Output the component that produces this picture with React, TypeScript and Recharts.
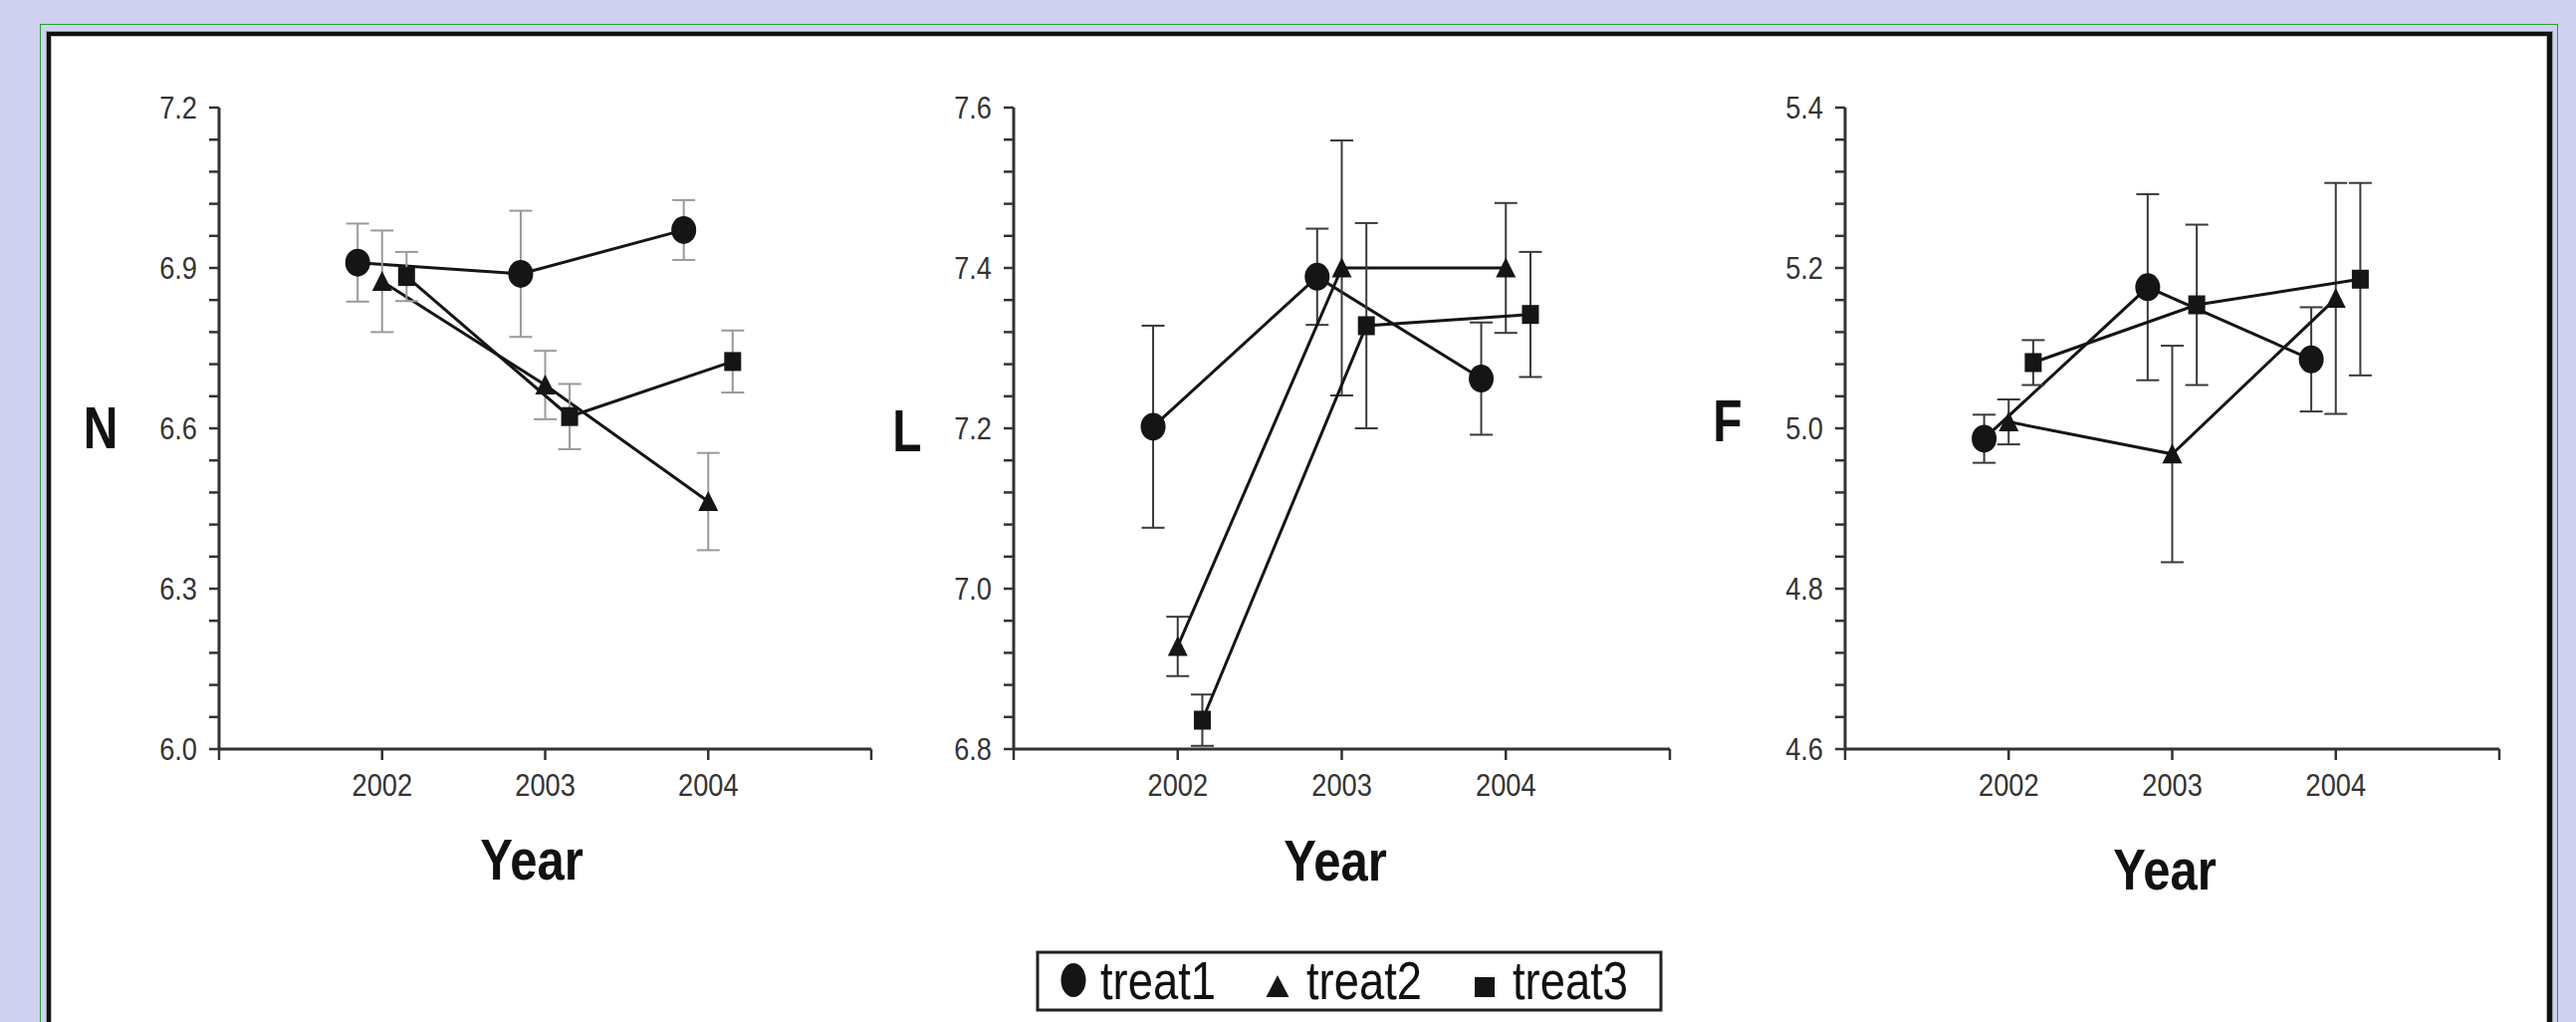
import React from 'react';
import { LineChart, Line, XAxis, YAxis, ErrorBar, Legend, Label } from 'recharts';

// ---------------- data ----------------
const YEARS = [2002, 2003, 2004];
const SERIES = ['treat1', 'treat2', 'treat3'];

const N_TREAT1 = [6.91, 6.889, 6.971];
const N_TREAT1_ERR = [0.073, 0.118, 0.056];
const N_TREAT2 = [6.875, 6.681, 6.463];
const N_TREAT2_ERR = [0.095, 0.064, 0.091];
const N_TREAT3 = [6.884, 6.622, 6.725];
const N_TREAT3_ERR = [0.046, 0.061, 0.058];

const L_TREAT1 = [7.202, 7.389, 7.262];
const L_TREAT1_ERR = [0.126, 0.06, 0.07];
const L_TREAT2 = [6.928, 7.4, 7.4];
const L_TREAT2_ERR = [0.037, 0.159, 0.081];
const L_TREAT3 = [6.836, 7.328, 7.342];
const L_TREAT3_ERR = [0.032, 0.128, 0.078];

const F_TREAT1 = [4.987, 5.176, 5.086];
const F_TREAT1_ERR = [0.03, 0.116, 0.065];
const F_TREAT2 = [5.008, 4.968, 5.162];
const F_TREAT2_ERR = [0.028, 0.135, 0.144];
const F_TREAT3 = [5.082, 5.154, 5.186];
const F_TREAT3_ERR = [0.028, 0.1, 0.12];

const X_TICKS = [2001, 2002, 2003, 2004, 2005];
const X_TICK_LABELS = ['', '2002', '2003', '2004', ''];

const N_TICKS = [6.0, 6.06, 6.12, 6.18, 6.24, 6.3, 6.36, 6.42, 6.48, 6.54, 6.6, 6.66, 6.72, 6.78, 6.84, 6.9, 6.96, 7.02, 7.08, 7.14, 7.2];
const N_TICK_LABELS = ['6.0', '', '', '', '', '6.3', '', '', '', '', '6.6', '', '', '', '', '6.9', '', '', '', '', '7.2'];
const L_TICKS = [6.8, 6.84, 6.88, 6.92, 6.96, 7.0, 7.04, 7.08, 7.12, 7.16, 7.2, 7.24, 7.28, 7.32, 7.36, 7.4, 7.44, 7.48, 7.52, 7.56, 7.6];
const L_TICK_LABELS = ['6.8', '', '', '', '', '7.0', '', '', '', '', '7.2', '', '', '', '', '7.4', '', '', '', '', '7.6'];
const F_TICKS = [4.6, 4.64, 4.68, 4.72, 4.76, 4.8, 4.84, 4.88, 4.92, 4.96, 5.0, 5.04, 5.08, 5.12, 5.16, 5.2, 5.24, 5.28, 5.32, 5.36, 5.4];
const F_TICK_LABELS = ['4.6', '', '', '', '', '4.8', '', '', '', '', '5.0', '', '', '', '', '5.2', '', '', '', '', '5.4'];

// ---------------- styles ----------------
const FONT = "'Liberation Sans', Arial, sans-serif";
const SQUEEZE = 0.85;
const H = 1026;
const PLOT_TOP = 108;
const PLOT_BOTTOM = 752;
const Y_AXIS_W = 190;
const RIGHT_PAD = 12;
const SERIES_OFFSET: Record<string, number> = { treat1: -0.15, treat2: 0, treat3: 0.15 };
const INK = '#151515';
const AXIS = '#333';

function rows(vals: number[], errs: number[], name: string) {
  return YEARS.map((yr, i) => ({ x: yr + SERIES_OFFSET[name], y: vals[i], err: errs[i] }));
}

const PANELS = [
  {
    letter: 'N', plotLeft: 220, plotRight: 875, domain: [6.0, 7.2], ticks: N_TICKS, tickLabels: N_TICK_LABELS,
    errColor: '#9a9a9a', letterX: 101, letterY: 450, yearX: 534, yearY: 883,
    series: [rows(N_TREAT1, N_TREAT1_ERR, 'treat1'), rows(N_TREAT2, N_TREAT2_ERR, 'treat2'), rows(N_TREAT3, N_TREAT3_ERR, 'treat3')],
  },
  {
    letter: 'L', plotLeft: 1018, plotRight: 1677, domain: [6.8, 7.6], ticks: L_TICKS, tickLabels: L_TICK_LABELS,
    errColor: '#3a3a3a', letterX: 911, letterY: 453, yearX: 1341, yearY: 884,
    series: [rows(L_TREAT1, L_TREAT1_ERR, 'treat1'), rows(L_TREAT2, L_TREAT2_ERR, 'treat2'), rows(L_TREAT3, L_TREAT3_ERR, 'treat3')],
  },
  {
    letter: 'F', plotLeft: 1853, plotRight: 2510, domain: [4.6, 5.4], ticks: F_TICKS, tickLabels: F_TICK_LABELS,
    errColor: '#3a3a3a', letterX: 1735, letterY: 443, yearX: 2174, yearY: 893,
    series: [rows(F_TREAT1, F_TREAT1_ERR, 'treat1'), rows(F_TREAT2, F_TREAT2_ERR, 'treat2'), rows(F_TREAT3, F_TREAT3_ERR, 'treat3')],
  },
];

function SqText({ x, y, sx, children, ...rest }: any) {
  return (
    <g transform={`translate(${x},${y}) scale(${sx},1)`}>
      <text x={0} y={0} fontFamily={FONT} {...rest}>{children}</text>
    </g>
  );
}

function Marker({ shape, cx, cy }: { shape: string; cx: number; cy: number }) {
  if (cx == null || cy == null || isNaN(cx) || isNaN(cy)) return null;
  if (shape === 'treat1') return <ellipse cx={cx} cy={cy} rx={12.5} ry={14} fill={INK} />;
  if (shape === 'treat2')
    return <polygon points={`${cx},${cy - 10.5} ${cx - 10},${cy + 9.5} ${cx + 10},${cy + 9.5}`} fill={INK} />;
  return <rect x={cx - 8.5} y={cy - 9.5} width={17} height={19} fill={INK} />;
}

const LEG_LEFT = 1040;
const LEG_TOP = 950;

function LegendBox(props: any) {
  const payload = (props.payload || []) as any[];
  const textX = [65, 272, 479];
  const names = payload.map((p) => p.value as string);
  return (
    <svg width={632} height={70} style={{ display: 'block' }}>
      <rect x={2} y={6} width={626} height={58} fill="#fff" stroke="#222" strokeWidth={3} />
      {names.map((n, i) => (
        <g key={n}>
          {n === 'treat1' && <ellipse cx={38} cy={34} rx={12.5} ry={17} fill={INK} />}
          {n === 'treat2' && <polygon points={`243,29 231.5,51 254.5,51`} fill={INK} />}
          {n === 'treat3' && <rect x={441} y={31} width={20} height={20} fill={INK} />}
          <SqText x={textX[i]} y={53} sx={0.84} fontSize={54} fill="#111">{n}</SqText>
        </g>
      ))}
    </svg>
  );
}

function XTick(props: any) {
  const { x, y, payload, tickFormatter } = props;
  const label = tickFormatter ? tickFormatter(payload.value, payload.index) : String(payload.value);
  if (!label) return null;
  return <SqText x={x} y={y} sx={SQUEEZE} textAnchor="middle" dy="0.71em" fontSize={32} fill="#333">{label}</SqText>;
}

function YTick(props: any) {
  const { x, y, payload, tickFormatter } = props;
  const label = tickFormatter ? tickFormatter(payload.value, payload.index) : String(payload.value);
  if (!label) return null;
  return <SqText x={x} y={y} sx={SQUEEZE} textAnchor="end" dy="0.355em" fontSize={32} fill="#333">{label}</SqText>;
}

function Panel({ p, withLegend }: { p: (typeof PANELS)[number]; withLegend: boolean }) {
  const left = p.plotLeft - Y_AXIS_W;
  const width = Y_AXIS_W + (p.plotRight - p.plotLeft) + RIGHT_PAD;
  const fmtY = (v: number) => {
    const i = p.ticks.findIndex((t) => Math.abs(t - v) < 1e-6);
    return i >= 0 ? p.tickLabels[i] : '';
  };
  const fmtX = (v: number) => {
    const i = X_TICKS.indexOf(v);
    return i >= 0 ? X_TICK_LABELS[i] : '';
  };
  return (
    <div style={{ position: 'absolute', left, top: 0, width, height: H }}>
      <LineChart width={width} height={H} margin={{ top: PLOT_TOP, right: RIGHT_PAD, bottom: 0, left: 0 }}>
        <XAxis
          type="number"
          dataKey="x"
          domain={[2001, 2005]}
          ticks={X_TICKS}
          interval={0}
          allowDataOverflow
          tickFormatter={fmtX}
          height={H - PLOT_BOTTOM}
          tickSize={11}
          tickMargin={13}
          axisLine={{ stroke: AXIS, strokeWidth: 3 }}
          tickLine={{ stroke: AXIS, strokeWidth: 2.5 }}
          tick={<XTick />}
        >
          <Label
            content={() => (
              <SqText x={p.yearX - left} y={p.yearY} sx={0.86} textAnchor="middle" fontWeight="bold" fontSize={57} fill="#111">
                Year
              </SqText>
            )}
          />
        </XAxis>
        <YAxis
          type="number"
          domain={p.domain}
          ticks={p.ticks}
          interval={0}
          allowDataOverflow
          width={Y_AXIS_W}
          tickFormatter={fmtY}
          tickSize={10}
          tickMargin={12}
          axisLine={{ stroke: AXIS, strokeWidth: 3 }}
          tickLine={{ stroke: AXIS, strokeWidth: 2.5 }}
          tick={<YTick />}
        >
          <Label
            content={() => (
              <SqText x={p.letterX - left} y={p.letterY} sx={0.8} textAnchor="middle" fontWeight="bold" fontSize={60} fill="#111">
                {p.letter}
              </SqText>
            )}
          />
        </YAxis>
        {p.series.map((data, si) => {
          const name = SERIES[si];
          return (
            <Line
              key={name}
              name={name}
              data={data}
              dataKey="y"
              type="linear"
              stroke={INK}
              strokeWidth={3}
              isAnimationActive={false}
              activeDot={false}
              dot={(dp: any) => <Marker key={`${name}-${dp.index}`} shape={name} cx={dp.cx} cy={dp.cy} />}
            >
              <ErrorBar dataKey="err" width={11.5} stroke={p.errColor} strokeWidth={2} direction="y" isAnimationActive={false} />
            </Line>
          );
        })}
        {withLegend && (
          <Legend
            layout="horizontal"
            verticalAlign="middle"
            align="center"
            width={632}
            height={70}
            wrapperStyle={{ position: 'absolute', left: LEG_LEFT - left, top: LEG_TOP, width: 632, height: 70, margin: 0, padding: 0 }}
            content={(lp: any) => <LegendBox {...lp} />}
          />
        )}
      </LineChart>
    </div>
  );
}

export default function App() {
  return (
    <div style={{ position: 'absolute', left: 0, top: 0, width: 2587, height: 1026, overflow: 'hidden', background: '#d0d1f1' }}>
      <div style={{ position: 'absolute', left: 40, top: 24, width: 2529, height: 1100, border: '1.5px solid #22a12c', boxSizing: 'border-box' }} />
      <div
        style={{
          position: 'absolute', left: 47, top: 32, width: 2516, height: 1100, background: '#fff',
          borderStyle: 'solid', borderColor: '#111', borderWidth: '4px 5px 4px 4px', boxSizing: 'border-box',
          boxShadow: '0 0 0 1px #9a9a9a, inset 0 0 0 1px #bbb',
        }}
      />
      {PANELS.map((p, i) => (
        <Panel key={p.letter} p={p} withLegend={i === 1} />
      ))}
    </div>
  );
}
